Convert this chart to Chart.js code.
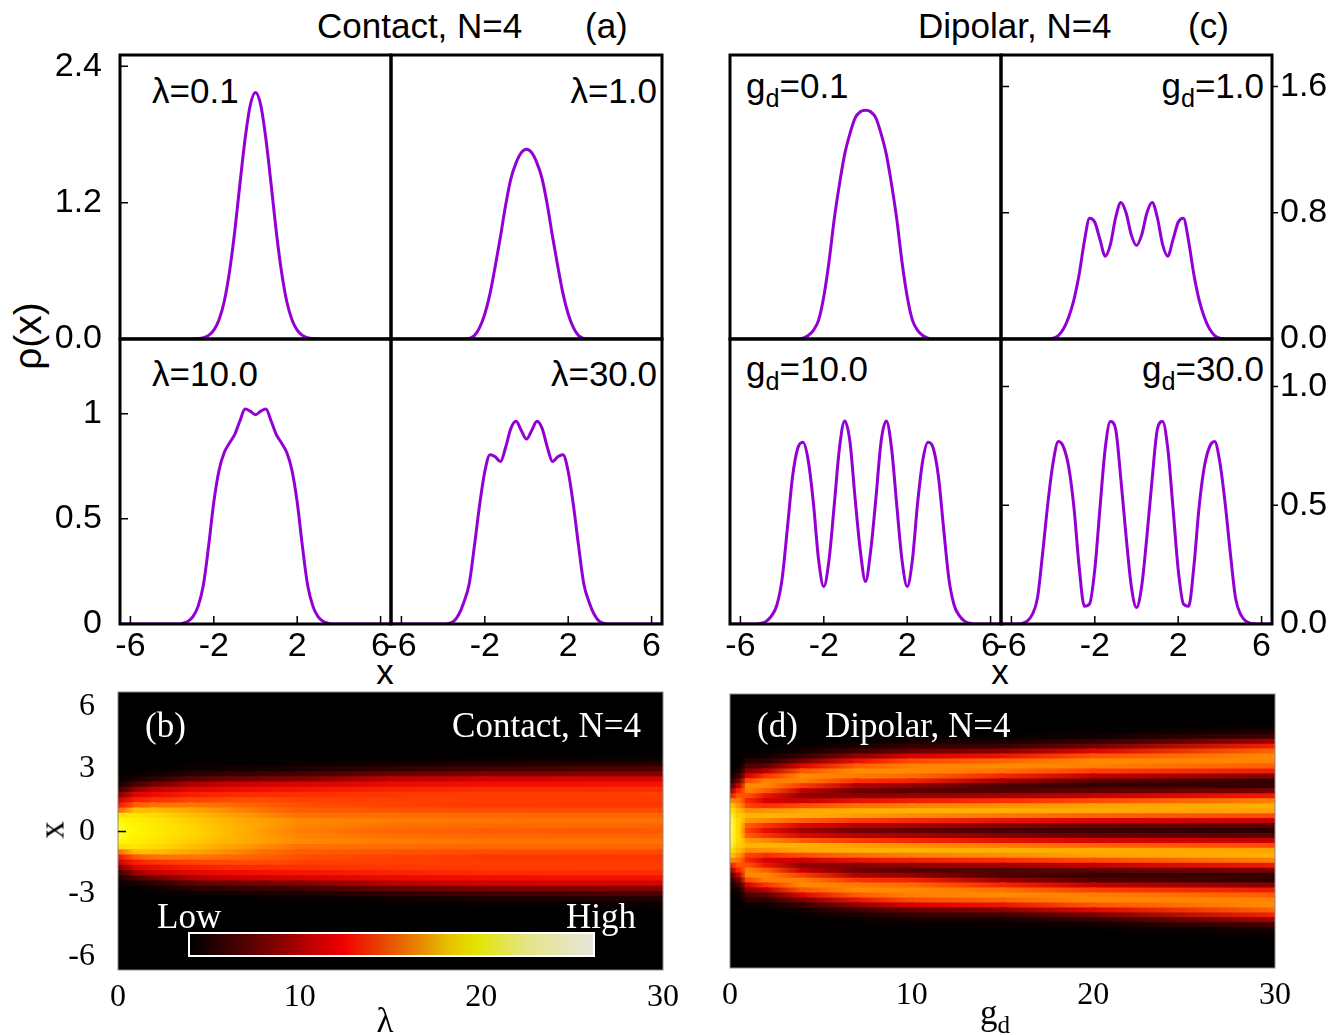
<!DOCTYPE html>
<html>
<head>
<meta charset="utf-8">
<script src="https://cdn.jsdelivr.net/npm/chart.js"></script>
<style>
body { margin: 0; background: #fff; width: 1339px; height: 1035px; position: relative; overflow: hidden; }
canvas { position: absolute; }
.t { position: absolute; white-space: nowrap; line-height: 1; font-family: "Liberation Sans", Arial, sans-serif; font-size: 35px; color: #000; }
.s { font-family: "Liberation Serif", "Times New Roman", serif; }
.w { color: #fff; }
.t sub { font-size: 0.72em; vertical-align: -0.35em; line-height: 0; }
.bar { position: absolute; left: 188px; top: 932px; width: 407px; height: 25px; box-sizing: border-box; border: 2px solid #fff;
  background: linear-gradient(to right, #000 0%, #3c0000 10%, #7a0000 20%, #c00000 30%, #f00000 38%, #e84000 47%, #e88000 56%, #e8c000 64%, #e4e400 71%, #e4e480 83%, #e6e6dc 100%); }
</style>
</head>
<body>
<div class="t" style="left:317px;top:8px">Contact, N=4</div>
<div class="t" style="left:585px;top:8px">(a)</div>
<div class="t" style="left:918px;top:8px">Dipolar, N=4</div>
<div class="t" style="left:1188px;top:8px">(c)</div>
<div class="t" style="left:27px;top:336px;font-size:39px;transform:translate(-50%,-50%) rotate(-90deg)">ρ(x)</div>
<div class="t" style="left:385px;top:654px;transform:translateX(-50%)">x</div>
<div class="t" style="left:1000px;top:654px;transform:translateX(-50%)">x</div>

<div class="t" style="left:152px;top:73px">λ=0.1</div>
<div class="t" style="right:682px;top:73px">λ=1.0</div>
<div class="t" style="left:152px;top:356px">λ=10.0</div>
<div class="t" style="right:682px;top:356px">λ=30.0</div>
<div class="t" style="left:746px;top:68px">g<sub>d</sub>=0.1</div>
<div class="t" style="right:75px;top:68px">g<sub>d</sub>=1.0</div>
<div class="t" style="left:746px;top:351px">g<sub>d</sub>=10.0</div>
<div class="t" style="right:75px;top:351px">g<sub>d</sub>=30.0</div>

<script>
// x grid of the half profiles (x >= 0); every density profile is symmetric in x
const xHalf = [0, 0.25, 0.5, 0.75, 1, 1.25, 1.5, 1.75, 2, 2.25, 2.5, 2.75, 3, 3.25, 3.5, 3.75, 4, 4.25, 4.5, 4.75, 5, 5.25, 5.5, 5.75, 6, 6.25, 6.5];

// contact interaction, rho(x) at lambda = 0.1, 1, 10, 30 (panel a)
const rhoL01 = [2.17, 2.06, 1.76, 1.36, 0.94, 0.59, 0.33, 0.17, 0.078, 0.032, 0.012, 0.004, 0, 0, 0, 0, 0, 0, 0, 0, 0, 0, 0, 0, 0, 0, 0];
const rhoL1  = [1.67, 1.64, 1.55, 1.41, 1.18, 0.90, 0.64, 0.40, 0.22, 0.10, 0.03, 0.005, 0, 0, 0, 0, 0, 0, 0, 0, 0, 0, 0, 0, 0, 0, 0];
const rhoL10 = [0.995, 1.012, 1.022, 0.965, 0.90, 0.86, 0.815, 0.73, 0.58, 0.37, 0.185, 0.085, 0.035, 0.012, 0.003, 0, 0, 0, 0, 0, 0, 0, 0, 0, 0, 0, 0];
const rhoL30 = [0.879, 0.92, 0.964, 0.93, 0.84, 0.772, 0.795, 0.805, 0.725, 0.565, 0.37, 0.19, 0.105, 0.045, 0.012, 0.003, 0, 0, 0, 0, 0, 0, 0, 0, 0, 0, 0];

// dipolar interaction, rho(x) at g_d = 0.1, 1, 10, 30 (panel c)
const rhoG01 = [1.45, 1.44, 1.40, 1.30, 1.17, 0.98, 0.76, 0.49, 0.27, 0.12, 0.055, 0.022, 0.006, 0, 0, 0, 0, 0, 0, 0, 0, 0, 0, 0, 0, 0, 0];
const rhoG1  = [0.593, 0.66, 0.80, 0.865, 0.77, 0.60, 0.525, 0.63, 0.74, 0.765, 0.62, 0.41, 0.25, 0.14, 0.065, 0.022, 0.005, 0, 0, 0, 0, 0, 0, 0, 0, 0, 0];
const rhoG10 = [0.179, 0.31, 0.53, 0.77, 0.855, 0.74, 0.50, 0.27, 0.158, 0.27, 0.51, 0.69, 0.765, 0.74, 0.62, 0.40, 0.19, 0.08, 0.035, 0.012, 0.003, 0, 0, 0, 0, 0, 0];
const rhoG30 = [0.069, 0.16, 0.37, 0.61, 0.82, 0.853, 0.74, 0.49, 0.23, 0.085, 0.075, 0.24, 0.49, 0.66, 0.745, 0.768, 0.68, 0.51, 0.30, 0.11, 0.04, 0.012, 0.002, 0, 0, 0, 0];

// extra columns (b) and (d)
const rhoL2  = [1.50, 1.48, 1.42, 1.32, 1.17, 0.97, 0.74, 0.50, 0.30, 0.15, 0.06, 0.02, 0.005, 0, 0, 0, 0, 0, 0, 0, 0, 0, 0, 0, 0, 0, 0];
const rhoL4  = [1.30, 1.29, 1.25, 1.19, 1.10, 0.98, 0.82, 0.63, 0.43, 0.25, 0.12, 0.05, 0.015, 0.004, 0, 0, 0, 0, 0, 0, 0, 0, 0, 0, 0, 0, 0];
const rhoL6  = [1.17, 1.17, 1.15, 1.10, 1.03, 0.95, 0.84, 0.69, 0.50, 0.30, 0.15, 0.065, 0.022, 0.006, 0, 0, 0, 0, 0, 0, 0, 0, 0, 0, 0, 0, 0];
const rhoL8  = [1.07, 1.08, 1.08, 1.03, 0.96, 0.91, 0.85, 0.72, 0.55, 0.34, 0.17, 0.075, 0.028, 0.008, 0, 0, 0, 0, 0, 0, 0, 0, 0, 0, 0, 0, 0];
const rhoL15 = [0.93, 0.96, 0.99, 0.95, 0.87, 0.82, 0.81, 0.77, 0.66, 0.47, 0.28, 0.14, 0.06, 0.02, 0.005, 0, 0, 0, 0, 0, 0, 0, 0, 0, 0, 0, 0];
const rhoL20 = [0.90, 0.94, 0.975, 0.94, 0.85, 0.785, 0.80, 0.795, 0.71, 0.53, 0.34, 0.17, 0.085, 0.032, 0.008, 0, 0, 0, 0, 0, 0, 0, 0, 0, 0, 0, 0];

const rhoG05 = [1.05, 1.06, 1.05, 1.00, 0.90, 0.80, 0.72, 0.64, 0.52, 0.36, 0.21, 0.10, 0.04, 0.012, 0.003, 0, 0, 0, 0, 0, 0, 0, 0, 0, 0, 0, 0];
const rhoG2  = [0.45, 0.56, 0.76, 0.87, 0.78, 0.55, 0.40, 0.47, 0.66, 0.76, 0.74, 0.56, 0.34, 0.17, 0.07, 0.025, 0.006, 0, 0, 0, 0, 0, 0, 0, 0, 0, 0];
const rhoG4  = [0.30, 0.42, 0.66, 0.85, 0.83, 0.62, 0.38, 0.27, 0.36, 0.58, 0.74, 0.77, 0.64, 0.42, 0.22, 0.09, 0.03, 0.008, 0, 0, 0, 0, 0, 0, 0, 0, 0];
const rhoG7  = [0.21, 0.34, 0.58, 0.81, 0.855, 0.70, 0.46, 0.25, 0.20, 0.33, 0.56, 0.73, 0.77, 0.66, 0.46, 0.26, 0.11, 0.04, 0.012, 0.003, 0, 0, 0, 0, 0, 0, 0];
const rhoG15 = [0.13, 0.24, 0.46, 0.72, 0.85, 0.78, 0.55, 0.30, 0.14, 0.13, 0.29, 0.52, 0.71, 0.77, 0.68, 0.47, 0.25, 0.10, 0.035, 0.01, 0.002, 0, 0, 0, 0, 0, 0];
const rhoG20 = [0.10, 0.19, 0.41, 0.67, 0.84, 0.82, 0.62, 0.37, 0.17, 0.09, 0.15, 0.36, 0.59, 0.74, 0.765, 0.64, 0.42, 0.21, 0.08, 0.025, 0.006, 0, 0, 0, 0, 0, 0];

// columns of the maps
const lamCols = [0, 1, 2, 4, 6, 8, 10, 15, 20, 30];
const lamProfs = [rhoL01, rhoL1, rhoL2, rhoL4, rhoL6, rhoL8, rhoL10, rhoL15, rhoL20, rhoL30];
const gdCols = [0, 0.5, 1, 2, 4, 7, 10, 15, 20, 30];
const gdProfs = [rhoG01, rhoG05, rhoG1, rhoG2, rhoG4, rhoG7, rhoG10, rhoG15, rhoG20, rhoG30];

// ticks
const xTicks = [-6, -2, 2, 6];
const mapXTicks = [0, 10, 20, 30];
const mapYTicks = [-6, -3, 0, 3, 6];

const lineColor = '#9400d3';
const sans = '"Liberation Sans", Arial, sans-serif';
const serif = '"Liberation Serif", "Times New Roman", serif';

// colour scales of the two maps (density -> rgb)
const stopsB = [[0, [0, 0, 0]], [0.05, [40, 0, 0]], [0.15, [110, 0, 0]], [0.3, [200, 0, 0]], [0.55, [245, 15, 0]],
  [0.8, [255, 60, 0]], [0.97, [255, 115, 0]], [1.05, [255, 150, 0]], [1.2, [255, 195, 0]], [1.35, [255, 225, 0]],
  [1.7, [255, 248, 0]], [2.2, [255, 255, 40]], [3.0, [255, 255, 220]]];
const stopsD = [[0, [0, 0, 0]], [0.08, [50, 0, 0]], [0.2, [110, 0, 0]], [0.4, [215, 0, 0]], [0.55, [255, 45, 0]],
  [0.7, [255, 110, 0]], [0.78, [255, 145, 0]], [0.86, [255, 180, 0]], [1.1, [255, 225, 0]], [1.45, [255, 255, 90]],
  [1.8, [255, 255, 220]]];

function colorAt(stops, v) {
  if (v <= stops[0][0]) return 'rgb(' + stops[0][1].join(',') + ')';
  for (let i = 1; i < stops.length; i++) {
    if (v <= stops[i][0]) {
      const [v0, c0] = stops[i - 1], [v1, c1] = stops[i];
      const t = (v - v0) / (v1 - v0);
      return 'rgb(' + c0.map((c, k) => Math.round(c + (c1[k] - c) * t)).join(',') + ')';
    }
  }
  return 'rgb(' + stops[stops.length - 1][1].join(',') + ')';
}

function fullProfile(half) {
  const pts = [];
  for (let i = half.length - 1; i > 0; i--) pts.push({x: -xHalf[i], y: half[i]});
  for (let i = 0; i < half.length; i++) pts.push({x: xHalf[i], y: half[i]});
  return pts;
}

function addCanvas(frame, pad) {
  const c = document.createElement('canvas');
  const w = frame.r - frame.l + pad.l + pad.r, h = frame.b - frame.t + pad.t + pad.b;
  c.width = w; c.height = h;
  c.style.left = (frame.l - pad.l) + 'px';
  c.style.top = (frame.t - pad.t) + 'px';
  c.style.width = w + 'px'; c.style.height = h + 'px';
  document.body.appendChild(c);
  return c;
}

// keep the plot area fixed: no extra room for overhanging tick labels
function fixSize(size, prop) {
  return s => {
    if (s.options.display) s[prop] = size;
    s.paddingTop = 0; s.paddingBottom = 0; s.paddingLeft = 0; s.paddingRight = 0;
  };
}

// frame + small tick marks
function frameTicks(m) {
  return {
    id: 'frameTicks',
    beforeDatasetsDraw(chart) {
      if (!m.bg) return;
      const a = chart.chartArea;
      chart.ctx.fillStyle = m.bg;
      chart.ctx.fillRect(a.left, a.top, a.width, a.height);
    },
    afterDatasetsDraw(chart) {
      const {ctx, chartArea: a, scales: {x, y}} = chart;
      ctx.save();
      ctx.strokeStyle = m.color || '#000';
      ctx.lineWidth = m.width || 3;
      ctx.strokeRect(a.left, a.top, a.width, a.height);
      ctx.strokeStyle = '#000';
      ctx.lineWidth = 1.5;
      ctx.beginPath();
      (m.left || []).forEach(v => { const p = y.getPixelForValue(v); ctx.moveTo(a.left, p); ctx.lineTo(a.left + 8, p); });
      (m.right || []).forEach(v => { const p = y.getPixelForValue(v); ctx.moveTo(a.right, p); ctx.lineTo(a.right + 6, p); });
      (m.bottom || []).forEach(v => { const p = x.getPixelForValue(v); ctx.moveTo(p, a.bottom); ctx.lineTo(p, a.bottom - 8); });
      ctx.stroke();
      ctx.restore();
    }
  };
}

function densityPanel(frame, prof, yMax, o) {
  const yPos = o.yLeft ? 'left' : (o.yRight ? 'right' : null);
  const pad = {l: o.yLeft ? 80 : 4, r: o.yRight ? 75 : 4, t: 4, b: o.xLabels ? 50 : 24};
  const cv = addCanvas(frame, pad);
  return new Chart(cv, {
    type: 'line',
    data: {
      datasets: [{
        data: fullProfile(prof),
        borderColor: lineColor,
        borderWidth: 3,
        pointRadius: 0,
        cubicInterpolationMode: 'monotone',
        fill: false
      }]
    },
    options: {
      responsive: false,
      animation: false,
      events: [],
      layout: { padding: { left: yPos === 'left' ? 0 : pad.l, right: yPos === 'right' ? 0 : pad.r, top: pad.t, bottom: o.xLabels ? 0 : pad.b } },
      plugins: { legend: { display: false }, tooltip: { enabled: false } },
      scales: {
        x: {
          type: 'linear', min: -6.5, max: 6.5, display: !!o.xLabels,
          grid: { display: false }, border: { display: false },
          afterBuildTicks: s => { s.ticks = xTicks.map(v => ({value: v})); },
          afterFit: fixSize(pad.b, 'height'),
          ticks: { font: { family: sans, size: 34, lineHeight: 1 }, color: '#000', padding: -2, maxRotation: 0, autoSkip: false }
        },
        y: {
          type: 'linear', min: 0, max: yMax, display: !!yPos, position: yPos || 'left',
          grid: { display: false }, border: { display: false },
          afterBuildTicks: s => { s.ticks = (o.yTicks || []).map(v => ({value: v})); },
          afterFit: fixSize(yPos === 'right' ? pad.r : pad.l, 'width'),
          ticks: {
            callback: (v, i) => o.yLabels[i],
            font: { family: sans, size: 34, lineHeight: 1 }, color: '#000',
            padding: yPos === 'right' ? 0 : 10, autoSkip: false
          }
        }
      }
    },
    plugins: [frameTicks(o.marks || {})]
  });
}

function segGradient(c) {
  const ds = c.chart.data.datasets[c.datasetIndex];
  const g = c.chart.ctx.createLinearGradient(c.p0.x, 0, c.p1.x, 0);
  g.addColorStop(0, ds.cellColors[c.p0DataIndex]);
  g.addColorStop(1, ds.cellColors[c.p1DataIndex]);
  return g;
}

function mapPanel(frame, cols, profs, stops, yMin, yMax, o) {
  const pad = {l: o.yLabels ? 90 : 30, r: 30, t: 4, b: 50};
  const cv = addCanvas(frame, pad);
  const datasets = [];
  for (let i = -24; i <= 24; i++) {
    const k = Math.abs(i);
    const xv = i < 0 ? -xHalf[k] : xHalf[k];
    datasets.push({
      data: cols.map(c => ({x: c, y: xv})),
      cellColors: profs.map(p => colorAt(stops, p[k])),
      borderWidth: c => (c.chart.chartArea ? c.chart.chartArea.height / (yMax - yMin) * 0.25 + 1 : 6),
      borderCapStyle: 'square',
      clip: 0,
      pointRadius: 0,
      tension: 0,
      segment: { borderColor: segGradient }
    });
  }
  return new Chart(cv, {
    type: 'line',
    data: { datasets },
    options: {
      responsive: false,
      animation: false,
      events: [],
      layout: { padding: { left: o.yLabels ? 0 : pad.l, right: pad.r, top: pad.t, bottom: 0 } },
      plugins: { legend: { display: false }, tooltip: { enabled: false } },
      scales: {
        x: {
          type: 'linear', min: 0, max: 30,
          grid: { display: false }, border: { display: false },
          afterBuildTicks: s => { s.ticks = mapXTicks.map(v => ({value: v})); },
          afterFit: fixSize(pad.b, 'height'),
          ticks: { font: { family: serif, size: 32, lineHeight: 1 }, color: '#000', padding: 4, maxRotation: 0, autoSkip: false }
        },
        y: {
          type: 'linear', min: yMin, max: yMax, display: !!o.yLabels,
          grid: { display: false }, border: { display: false },
          afterBuildTicks: s => { s.ticks = mapYTicks.map(v => ({value: v})); },
          afterFit: fixSize(pad.l, 'width'),
          ticks: { callback: v => String(v), font: { family: serif, size: 32, lineHeight: 1 }, color: '#000', padding: 15, autoSkip: false }
        }
      }
    },
    plugins: [frameTicks({bg: '#000', color: '#8a8a8a', width: 1, left: o.yLabels ? [0] : []})]
  });
}

// panel (a)
densityPanel({l: 120, r: 391, t: 55, b: 339}, rhoL01, 2.5,
  {yLeft: true, yTicks: [0, 1.2, 2.4], yLabels: ['0.0', '1.2', '2.4'], marks: {left: [1.2, 2.4]}});
densityPanel({l: 391, r: 662, t: 55, b: 339}, rhoL1, 2.5, {});
densityPanel({l: 120, r: 391, t: 339, b: 624}, rhoL10, 1.355,
  {yLeft: true, xLabels: true, yTicks: [0, 0.5, 1], yLabels: ['0', '0.5', '1'], marks: {left: [0.5, 1], bottom: xTicks}});
densityPanel({l: 391, r: 662, t: 339, b: 624}, rhoL30, 1.355, {xLabels: true, marks: {bottom: xTicks}});

// panel (c)
densityPanel({l: 730, r: 1001, t: 55, b: 339}, rhoG01, 1.8, {});
densityPanel({l: 1001, r: 1272, t: 55, b: 339}, rhoG1, 1.8,
  {yRight: true, yTicks: [0, 0.8, 1.6], yLabels: ['0.0', '0.8', '1.6'], marks: {left: [0.8, 1.6], right: [0.8, 1.6]}});
densityPanel({l: 730, r: 1001, t: 339, b: 624}, rhoG10, 1.2, {xLabels: true, marks: {bottom: xTicks}});
densityPanel({l: 1001, r: 1272, t: 339, b: 624}, rhoG30, 1.2,
  {yRight: true, xLabels: true, yTicks: [0, 0.5, 1.0], yLabels: ['0.0', '0.5', '1.0'], marks: {left: [0.5, 1], right: [0.5, 1], bottom: xTicks}});

// panels (b) and (d)
mapPanel({l: 118, r: 663, t: 692, b: 970}, lamCols, lamProfs, stopsB, -6.65, 6.7, {yLabels: true});
mapPanel({l: 730, r: 1275, t: 694, b: 968}, gdCols, gdProfs, stopsD, -6.9, 6.9, {});
</script>

<div class="bar"></div>
<div class="t s w" style="left:145px;top:708px">(b)</div>
<div class="t s w" style="right:698px;top:708px">Contact, N=4</div>
<div class="t s w" style="left:157px;top:899px">Low</div>
<div class="t s w" style="left:566px;top:899px">High</div>
<div class="t s w" style="left:757px;top:708px">(d)</div>
<div class="t s w" style="left:825px;top:708px">Dipolar, N=4</div>
<div class="t s" style="left:52px;top:830px;transform:translate(-50%,-50%) rotate(-90deg)">x</div>
<div class="t s" style="left:385px;top:1003px;transform:translateX(-50%)">λ</div>
<div class="t s" style="left:995px;top:995px;transform:translateX(-50%)">g<sub>d</sub></div>
</body>
</html>
